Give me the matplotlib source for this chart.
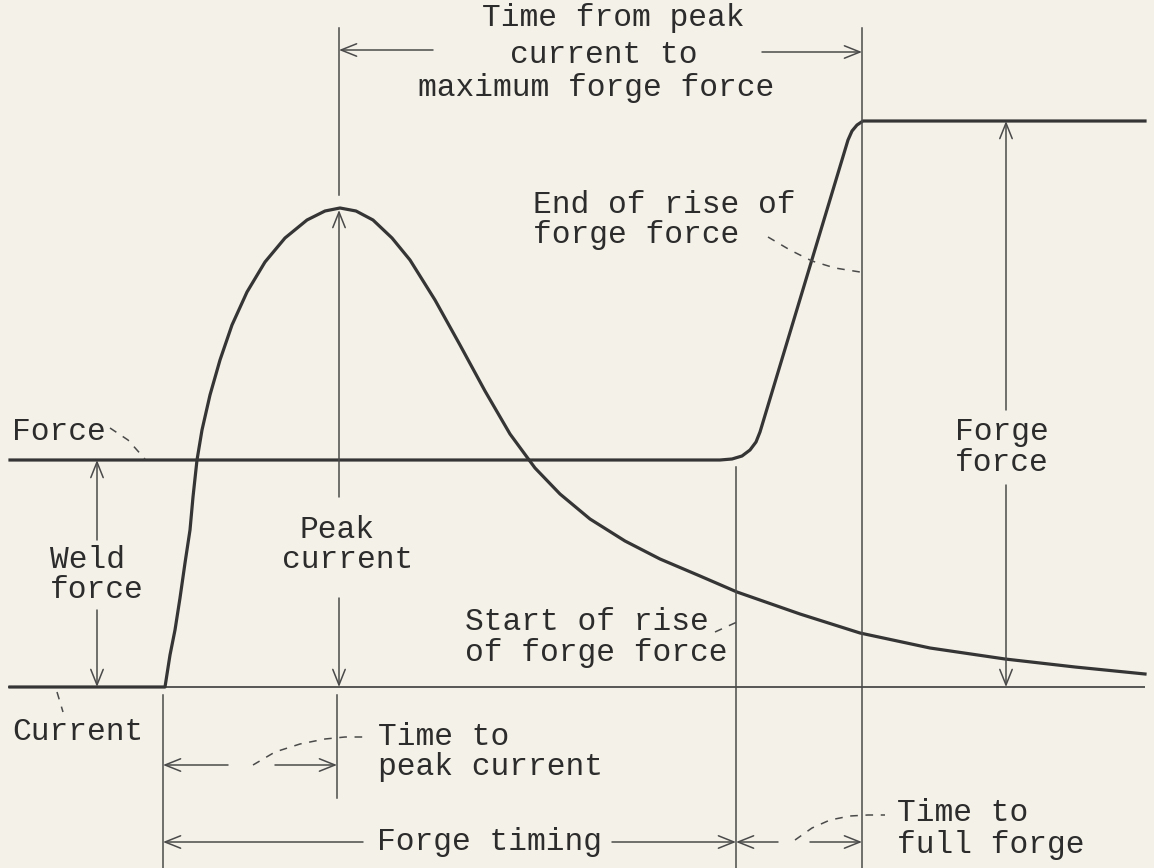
import matplotlib
matplotlib.use("Agg")
import matplotlib.pyplot as plt

W, H = 1154, 868

# ---- traces (time position, signal level as picture rows) ----
current_x = [10, 165, 170, 175, 180, 185, 190, 193, 197, 202, 210, 220, 232, 247, 265,
             285, 307, 325, 340, 356, 373, 392, 410, 435, 460, 485, 510, 535, 560,
             590, 625, 660, 700, 737, 800, 860, 930, 1005, 1075, 1145]
current_y = [687, 687, 655, 630, 598, 563, 530, 497, 460, 430, 395, 360, 325, 292, 262,
             238, 220, 211, 208, 211, 220, 238, 260, 300, 345, 391, 434, 468, 494,
             519, 541, 559, 576, 592, 614, 633, 648, 659, 667, 674]

force_x = [10, 720, 732, 742, 750, 756, 760, 848, 852, 857, 863, 1145]
force_y = [460, 460, 459, 456, 450, 442, 432, 140, 131, 125, 121, 121]

baseline_x = [8, 1145]
baseline_y = [687, 687]

# ---- reference lines (x, y_top, y_bottom) ----
ext_lines = [(339, 28, 195), (337, 695, 798), (862, 28, 868), (736, 467, 868), (163, 695, 868)]

# ---- dimension arrows (tail_x, tail_y, head_x, head_y) ----
dim_arrows = [
    (339, 497, 339, 210), (339, 598, 339, 687),
    (433, 50, 339, 50), (762, 52, 862, 52),
    (228, 765, 163, 765), (275, 765, 337, 765),
    (363, 842, 163, 842), (612, 842, 736, 842),
    (778, 842, 736, 842), (810, 842, 862, 842),
    (97, 540, 97, 460), (97, 610, 97, 687),
    (1006, 410, 1006, 121), (1006, 485, 1006, 687),
]

# ---- dashed leaders (x list, y list) ----
leaders = [
    ([110, 128, 145], [428, 440, 459]),
    ([57, 60, 63], [692, 702, 712]),
    ([768, 790, 812, 835, 860], [237, 250, 261, 268, 272]),
    ([715, 726, 737], [632, 627, 622]),
    ([253, 275, 300, 325, 345, 363], [765, 752, 744, 739, 737, 737]),
    ([795, 812, 830, 850, 868, 885], [840, 828, 820, 816, 815, 815]),
]

# ---- labels (text, x_left, y_centre) ----
labels = [
    ("Time from peak", 482, 18), ("current to", 510, 55), ("maximum forge force", 418, 88),
    ("End of rise of", 533, 205), ("forge force", 533, 235),
    ("Force", 12, 432),
    ("Forge", 955, 432), ("force", 955, 463),
    ("Weld", 50, 560), ("force", 50, 590),
    ("Peak", 300, 530), ("current", 282, 560),
    ("Start of rise", 465, 622), ("of forge force", 465, 653),
    ("Current", 12, 732),
    ("Time to", 378, 737), ("peak current", 378, 767),
    ("Forge timing", 377, 842),
    ("Time to", 897, 813), ("full forge", 897, 845),
]

BG = "#f4f1e8"
INK = "#353535"
THIN = "#4a4a4a"

fig = plt.figure(figsize=(W / 100, H / 100), dpi=100, facecolor=BG)
ax = fig.add_axes([0, 0, 1, 1])
ax.set_facecolor(BG)
ax.set_xlim(0, W)
ax.set_ylim(H, 0)
ax.axis("off")

ax.plot(baseline_x, baseline_y, color=THIN, lw=1.3, solid_capstyle="butt")
ax.plot(force_x, force_y, color=INK, lw=2.3, solid_joinstyle="round")
ax.plot(current_x, current_y, color=INK, lw=2.3, solid_joinstyle="round")

for x, y0, y1 in ext_lines:
    ax.plot([x, x], [y0, y1], color=THIN, lw=1.1)

for tx, ty, hx, hy in dim_arrows:
    ax.annotate("", xy=(hx, hy), xytext=(tx, ty),
                arrowprops=dict(arrowstyle="->,head_length=0.7,head_width=0.28",
                                color=THIN, lw=1.1, shrinkA=0, shrinkB=0,
                                mutation_scale=16))

for lx, ly in leaders:
    ax.plot(lx, ly, color=THIN, lw=1.1, linestyle=(0, (5, 5)))

for txt, x, y in labels:
    ax.text(x, y, txt, ha="left", va="center", fontsize=22.5,
            family="Liberation Mono", color="#2c2c2c")

fig.savefig("out.png", dpi=100, facecolor=BG)
